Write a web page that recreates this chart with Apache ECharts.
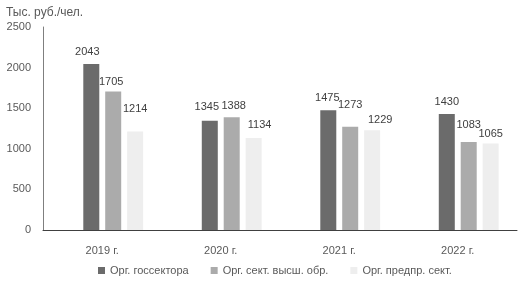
<!DOCTYPE html>
<html>
<head>
<meta charset="utf-8">
<script src="https://cdn.jsdelivr.net/npm/echarts@6/dist/echarts.min.js"></script>
<style>
    html, body { margin: 0; padding: 0; background: #fff; }
    #chart { width: 521px; height: 286px; }
</style>
</head>
<body>
<div id="chart"></div>
<script>
const years = ['2019 г.', '2020 г.', '2021 г.', '2022 г.'];
const seriesNames = ['Орг. госсектора', 'Орг. сект. высш. обр.', 'Орг. предпр. сект.'];
const govSector = [2043, 1345, 1475, 1430];
const higherEdu = [1705, 1388, 1273, 1083];
const businessSector = [1214, 1134, 1229, 1065];
const yTicks = [0, 500, 1000, 1500, 2000, 2500];

// label nudges [dx, dy] per bar, to follow the hand-placed labels of the original
const labelShift = [
    [[-4, -2], [-3, -3], [-1, -2], [0, -1]],
    [[-2, 1], [2, -1], [0, -11], [0, -7]],
    [[0, -12], [6, -2], [8, 0], [0, 1]]
];
const colors = ['#6b6b6b', '#ababab', '#eeeeee'];
const font = 'Liberation Sans';

const chartDom = document.getElementById('chart');
const myChart = echarts.init(chartDom, null, {renderer: 'canvas'});

const valueSets = [govSector, higherEdu, businessSector];

const barSeries = valueSets.map((vals, si) => ({
    name: seriesNames[si],
    type: 'bar',
    barWidth: 16,
    barGap: '37%',
    itemStyle: {color: colors[si]},
    data: vals.map((v, i) => ({
        value: v,
        label: {offset: labelShift[si][i]}
    })),
    label: {
        show: true,
        position: 'top',
        distance: 5,
        color: '#404040',
        fontFamily: font,
        fontSize: 11
    }
}));

const option = {
    animation: false,
    title: {
        text: 'Тыс. руб./чел.',
        left: 1,
        top: 2,
        textStyle: {color: '#595959', fontFamily: font, fontSize: 12, fontWeight: 'normal'}
    },
    grid: {left: 43, right: 4, top: 27, bottom: 56, containLabel: false},
    legend: {
        data: seriesNames,
        bottom: 5,
        left: 93,
        itemWidth: 7,
        itemHeight: 7,
        itemGap: 22,
        icon: 'rect',
        textStyle: {color: '#595959', fontFamily: font, fontSize: 11}
    },
    xAxis: {
        type: 'category',
        data: years,
        axisLine: {show: true, lineStyle: {color: '#404040', width: 1}},
        axisTick: {show: false},
        axisLabel: {
            color: '#595959',
            fontFamily: font,
            fontSize: 11,
            margin: 15
        }
    },
    yAxis: {
        type: 'value',
        min: 0,
        max: 2500,
        interval: 500,
        axisLine: {show: true, lineStyle: {color: '#7f7f7f', width: 1}},
        axisTick: {show: false},
        splitLine: {show: false},
        axisLabel: {
            color: '#595959',
            fontFamily: font,
            fontSize: 11,
            margin: 12,
            formatter: (v) => yTicks.includes(v) ? String(v) : ''
        }
    },
    series: [
        // empty slot so the bar group sits right of the category centre, as in the original
        {name: 'spacer', type: 'bar', barWidth: 16, barGap: '37%', data: years.map(() => null)},
        ...barSeries
    ]
};

myChart.setOption(option);
</script>
</body>
</html>
